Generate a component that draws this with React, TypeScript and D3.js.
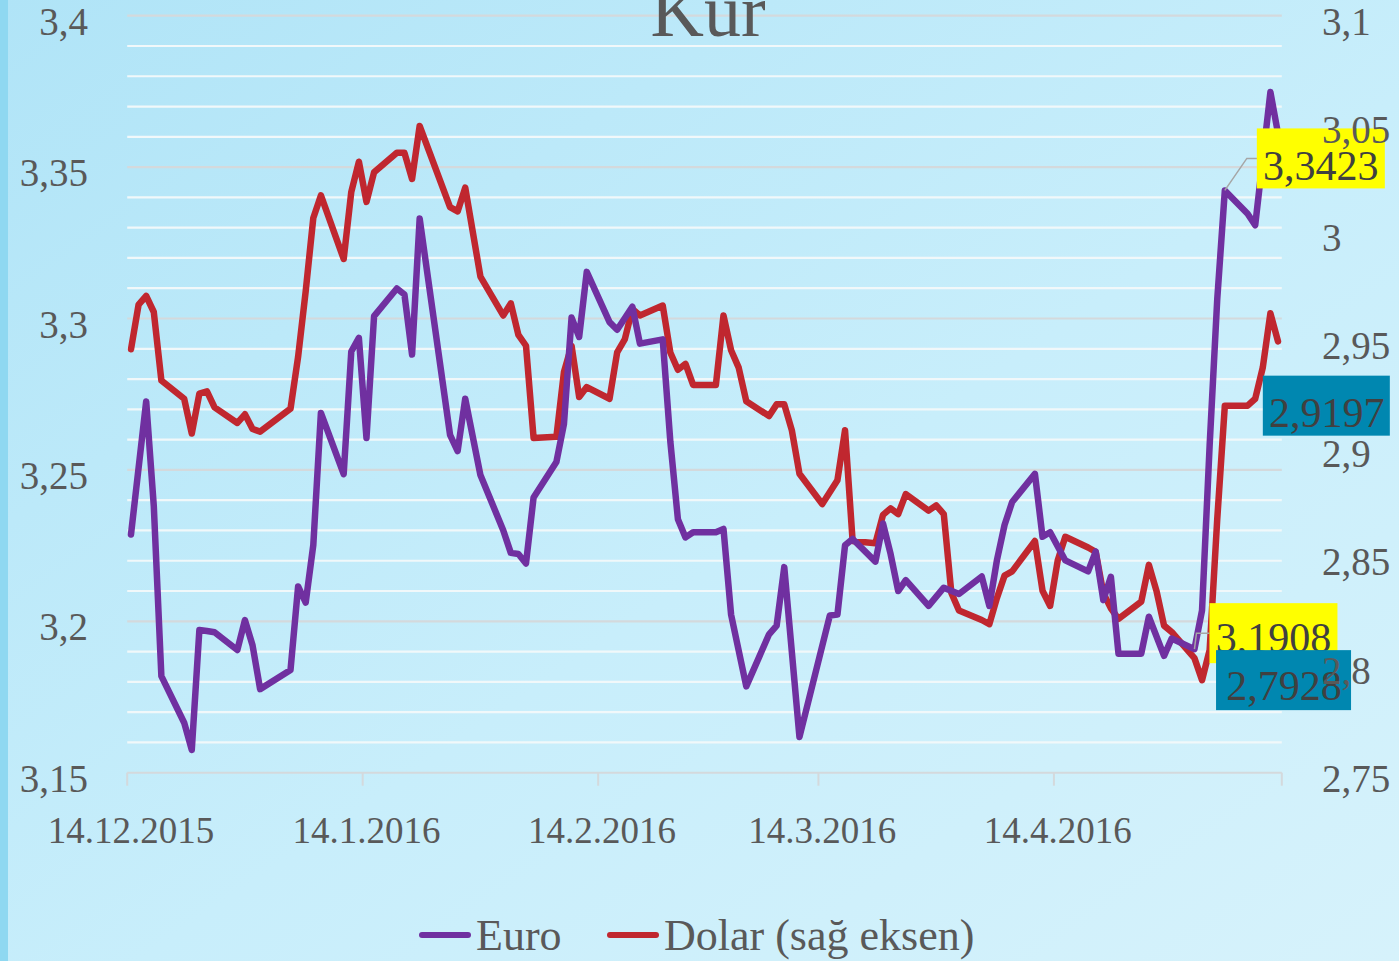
import React from 'react';
import * as d3 from 'd3';

const euroDates = [
  '2015-12-14','2015-12-16','2015-12-17','2015-12-18','2015-12-21','2015-12-22','2015-12-23','2015-12-24','2015-12-25',
  '2015-12-28','2015-12-29','2015-12-30','2015-12-31','2016-01-04','2016-01-05','2016-01-06','2016-01-07','2016-01-08',
  '2016-01-11','2016-01-12','2016-01-13','2016-01-14','2016-01-15','2016-01-18','2016-01-19','2016-01-20','2016-01-21',
  '2016-01-25','2016-01-26','2016-01-27','2016-01-29','2016-02-01','2016-02-02','2016-02-03','2016-02-04','2016-02-05',
  '2016-02-08','2016-02-09','2016-02-10','2016-02-11','2016-02-12','2016-02-15','2016-02-16','2016-02-18','2016-02-19',
  '2016-02-22','2016-02-23','2016-02-24','2016-02-25','2016-02-26','2016-02-29','2016-03-01','2016-03-02','2016-03-04',
  '2016-03-07','2016-03-08','2016-03-09','2016-03-11','2016-03-15','2016-03-16','2016-03-17','2016-03-18','2016-03-21',
  '2016-03-22','2016-03-23','2016-03-24','2016-03-25','2016-03-28','2016-03-30','2016-04-01','2016-04-04','2016-04-05',
  '2016-04-06','2016-04-07','2016-04-08','2016-04-11','2016-04-12','2016-04-13','2016-04-15','2016-04-18','2016-04-19',
  '2016-04-20','2016-04-21','2016-04-22','2016-04-25','2016-04-26','2016-04-28','2016-04-29','2016-05-02','2016-05-03',
  '2016-05-04','2016-05-05','2016-05-06','2016-05-09','2016-05-10','2016-05-12','2016-05-13',
];
const euroValues = [
  3.2287,3.2726,3.2381,3.1819,3.1665,3.1575,3.1971,3.1968,3.1964,
  3.1905,3.2004,3.1921,3.1776,3.1839,3.2115,3.2062,3.2252,3.2688,
  3.2486,3.2891,3.2936,3.2605,3.3008,3.3099,3.3079,3.2881,3.3330,
  3.2616,3.2562,3.2735,3.2483,3.2301,3.2226,3.2222,3.2191,3.2409,
  3.2526,3.2652,3.3003,3.2939,3.3154,3.2988,3.2963,3.3039,3.2917,
  3.2931,3.2594,3.2337,3.2277,3.2294,3.2294,3.2305,3.2022,3.1785,
  3.1957,3.1986,3.2179,3.1618,3.2019,3.2022,3.2251,3.2272,3.2197,
  3.2323,3.2222,3.2100,3.2136,3.2051,3.2111,3.2090,3.2148,3.2051,
  3.2202,3.2318,3.2394,3.2487,3.2279,3.2294,3.2201,3.2165,3.2230,
  3.2070,3.2147,3.1893,3.1893,3.2015,3.1886,3.1943,3.1908,3.2036,
  3.2581,3.3063,3.3423,3.3346,3.3308,3.3748,3.3611,
];
const dolarDates = [
  '2015-12-14','2015-12-15','2015-12-16','2015-12-17','2015-12-18','2015-12-21','2015-12-22','2015-12-23','2015-12-24',
  '2015-12-25','2015-12-28','2015-12-29','2015-12-30','2015-12-31','2016-01-04','2016-01-05','2016-01-06','2016-01-07',
  '2016-01-08','2016-01-11','2016-01-12','2016-01-13','2016-01-14','2016-01-15','2016-01-18','2016-01-19','2016-01-20',
  '2016-01-21','2016-01-25','2016-01-26','2016-01-27','2016-01-29','2016-02-01','2016-02-02','2016-02-03','2016-02-04',
  '2016-02-05','2016-02-08','2016-02-09','2016-02-10','2016-02-11','2016-02-12','2016-02-15','2016-02-16','2016-02-17',
  '2016-02-18','2016-02-19','2016-02-22','2016-02-23','2016-02-24','2016-02-25','2016-02-26','2016-02-29','2016-03-01',
  '2016-03-02','2016-03-03','2016-03-04','2016-03-07','2016-03-08','2016-03-09','2016-03-10','2016-03-11','2016-03-14',
  '2016-03-16','2016-03-17','2016-03-18','2016-03-21','2016-03-22','2016-03-23','2016-03-24','2016-03-25','2016-03-28',
  '2016-03-29','2016-03-30','2016-03-31','2016-04-01','2016-04-04','2016-04-05','2016-04-06','2016-04-07','2016-04-08',
  '2016-04-11','2016-04-12','2016-04-13','2016-04-14','2016-04-15','2016-04-18','2016-04-19','2016-04-20','2016-04-21',
  '2016-04-22','2016-04-25','2016-04-26','2016-04-27','2016-04-28','2016-04-29','2016-05-02','2016-05-03','2016-05-04',
  '2016-05-05','2016-05-06','2016-05-09','2016-05-10','2016-05-11','2016-05-12','2016-05-13',
];
const dolarValues = [
  2.9458,2.9664,2.9704,2.9630,2.9313,2.9229,2.9068,2.9253,2.9263,
  2.9189,2.9117,2.9157,2.9089,2.9077,2.9183,2.9423,2.9727,3.0065,
  3.0169,2.9875,3.0185,3.0325,3.0139,3.0276,3.0366,3.0366,3.0245,
  3.0490,3.0115,3.0095,3.0205,2.9794,2.9614,2.9670,2.9524,2.9474,
  2.9047,2.9053,2.9353,2.9474,2.9237,2.9283,2.9229,2.9443,2.9503,
  2.9644,2.9614,2.9660,2.9443,2.9363,2.9390,2.9293,2.9293,2.9614,
  2.9453,2.9373,2.9217,2.9149,2.9203,2.9203,2.9083,2.8882,2.8742,
  2.8852,2.9083,2.8571,2.8561,2.8692,2.8722,2.8696,2.8788,2.8712,
  2.8736,2.8696,2.8331,2.8250,2.8206,2.8187,2.8308,2.8411,2.8431,
  2.8571,2.8341,2.8271,2.8481,2.8591,2.8541,2.8521,2.8331,2.8260,
  2.8211,2.8291,2.8461,2.8341,2.8180,2.8151,2.8030,2.7928,2.8067,
  2.8672,2.9197,2.9197,2.9229,2.9374,2.9624,2.9494,
];

const leftTicks = [3.15, 3.2, 3.25, 3.3, 3.35, 3.4];
const rightTicks = [2.75, 2.8, 2.85, 2.9, 2.95, 3.0, 3.05, 3.1];
const xTickDates = ['2015-12-14', '2016-01-14', '2016-02-14', '2016-03-14', '2016-04-14', '2016-05-14'];
const xTickLabels = ['14.12.2015', '14.1.2016', '14.2.2016', '14.3.2016', '14.4.2016'];
const seriesNames = ['Euro', 'Dolar (sağ eksen)'];
const title = 'Kur';

const labelEuro = [{ date: '2016-05-06', value: 3.3423 }, { date: '2016-05-02', value: 3.1908 }];
const labelDolar = [{ date: '2016-05-06', value: 2.9197 }, { date: '2016-05-03', value: 2.7928 }];

const W = 1399;
const H = 961;
const X0 = 127.2;
const X1 = 1281.8;
const YT = 15.7;
const YB = 772.7;

const parse = d3.utcParse('%Y-%m-%d');
const fmt = (v: number) => d3.format('~g')(+v.toFixed(4)).replace('.', ',');

const FONT = "'Liberation Serif', 'DejaVu Serif', serif";
const TXT = '#595959';
const EURO_C = '#7030A0';
const DOLAR_C = '#C0272F';

export default function App() {
  const x = d3.scaleUtc().domain([parse('2015-12-14')!, parse('2016-05-14')!]).range([X0, X1]);
  const half = (x(parse('2015-12-15')!) - x(parse('2015-12-14')!)) / 2;
  const xp = (s: string) => x(parse(s)!) + half;
  const yL = d3.scaleLinear().domain([3.15, 3.4]).range([YB, YT]);
  const yR = d3.scaleLinear().domain([2.75, 3.1]).range([YB, YT]);

  const euroLine = d3.line<number>().x((_, i) => xp(euroDates[i])).y((v) => yL(v));
  const dolarLine = d3.line<number>().x((_, i) => xp(dolarDates[i])).y((v) => yR(v));

  const minor = d3.range(0, 26).map((i) => +(3.15 + i * 0.01).toFixed(2)).filter((v) => v > 3.15);
  const isMajor = (v: number) => leftTicks.some((t) => Math.abs(t - v) < 1e-6);

  const e1 = { x: xp(labelEuro[0].date), y: yL(labelEuro[0].value) };
  const e2 = { x: xp(labelEuro[1].date), y: yL(labelEuro[1].value) };
  const d1 = { x: xp(labelDolar[0].date), y: yR(labelDolar[0].value) };
  const d2 = { x: xp(labelDolar[1].date), y: yR(labelDolar[1].value) };

  return (
    <svg width={W} height={H} style={{ position: 'absolute', left: 0, top: 0, display: 'block' }} fontFamily={FONT}>
      <defs>
        <linearGradient id="bg" x1="0" y1="0" x2="1" y2="1">
          <stop offset="0" stopColor="#B0E4F7" />
          <stop offset="0.55" stopColor="#C8EEFB" />
          <stop offset="1" stopColor="#D6F2FB" />
        </linearGradient>
      </defs>
      <rect x={0} y={0} width={W} height={H} fill="url(#bg)" />
      <rect x={0} y={0} width={8} height={H} fill="#8FD8F1" />

      {minor.map((v) => (
        <line key={v} x1={X0} x2={X1} y1={yL(v)} y2={yL(v)} stroke={isMajor(v) ? '#D4D9DC' : '#F1F8FA'} strokeWidth={2.2} />
      ))}
      <line x1={X0} x2={X1} y1={YB} y2={YB} stroke="#D4D9DC" strokeWidth={2} />
      {xTickDates.map((s) => (
        <line key={s} x1={x(parse(s)!)} x2={x(parse(s)!)} y1={YB} y2={YB + 13} stroke="#D4D9DC" strokeWidth={2} />
      ))}

      <text x={708} y={36} textAnchor="middle" fontSize={74} fill={TXT}>{title}</text>

      {xTickLabels.map((l, i) => (
        <text key={l} x={x(parse(xTickDates[i])!) + half} y={843} textAnchor="middle" fontSize={37} fill={TXT}>{l}</text>
      ))}

      <path d={dolarLine(dolarValues) || ''} fill="none" stroke={DOLAR_C} strokeWidth={6.5} strokeLinejoin="round" strokeLinecap="round" />
      <path d={euroLine(euroValues) || ''} fill="none" stroke={EURO_C} strokeWidth={6.5} strokeLinejoin="round" strokeLinecap="round" />

      <polyline points={`${e1.x},${e1.y} ${e1.x + 22},${e1.y - 32} ${e1.x + 33},${e1.y - 32}`} fill="none" stroke="#A6A6A6" strokeWidth={1.5} />
      <rect x={e1.x + 32} y={e1.y - 62} width={128} height={60} fill="#FFFF00" />
      <text x={e1.x + 96} y={e1.y - 10} textAnchor="middle" fontSize={42} fill="#404040">{fmt(labelEuro[0].value)}</text>

      <rect x={d1.x + 38} y={d1.y - 30} width={127} height={60} fill="#0087B0" />
      <text x={d1.x + 102} y={d1.y + 21} textAnchor="middle" fontSize={42} fill="#404040">{fmt(labelDolar[0].value)}</text>

      <polyline points={`${e2.x},${e2.y} ${e2.x + 2},${e2.y - 16} ${e2.x + 15},${e2.y - 16}`} fill="none" stroke="#A6A6A6" strokeWidth={1.5} />
      <rect x={e2.x + 15} y={e2.y - 46} width={128} height={60} fill="#FFFF00" />
      <text x={e2.x + 79} y={e2.y + 3} textAnchor="middle" fontSize={42} fill="#404040">{fmt(labelEuro[1].value)}</text>

      <rect x={d2.x + 14} y={d2.y - 30} width={135} height={60} fill="#0087B0" />
      <text x={d2.x + 82} y={d2.y + 20} textAnchor="middle" fontSize={42} fill="#404040">{fmt(labelDolar[1].value)}</text>

      {leftTicks.map((t) => (
        <text key={t} x={88} y={yL(t) + 19} textAnchor="end" fontSize={39} fill={TXT}>{fmt(t)}</text>
      ))}
      {rightTicks.map((t) => (
        <text key={t} x={1322} y={yR(t) + 19} textAnchor="start" fontSize={39} fill={TXT}>{fmt(t)}</text>
      ))}

      <line x1={422} x2={468} y1={935} y2={935} stroke={EURO_C} strokeWidth={6} strokeLinecap="round" />
      <text x={476} y={950} fontSize={44} fill={TXT}>{seriesNames[0]}</text>
      <line x1={610} x2={656} y1={935} y2={935} stroke={DOLAR_C} strokeWidth={6} strokeLinecap="round" />
      <text x={664} y={950} fontSize={44} fill={TXT}>{seriesNames[1]}</text>
    </svg>
  );
}
